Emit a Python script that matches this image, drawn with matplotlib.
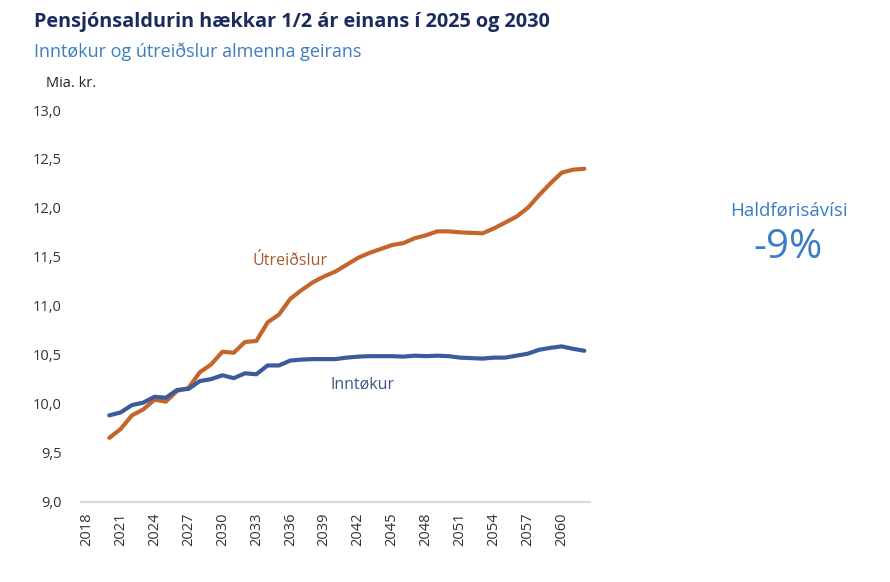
import matplotlib
matplotlib.use("Agg")
import matplotlib.pyplot as plt
from matplotlib.ticker import FuncFormatter, FixedLocator

plt.rcParams['font.family'] = ['Open Sans', 'DejaVu Sans']

years = list(range(2020, 2063))
utreidslur = [9.65, 9.74, 9.88, 9.94, 10.04, 10.02, 10.13, 10.16, 10.32, 10.40,
              10.53, 10.52, 10.63, 10.64, 10.83, 10.91, 11.07, 11.16, 11.24, 11.30,
              11.35, 11.42, 11.49, 11.54, 11.58, 11.62, 11.64, 11.69, 11.72, 11.76,
              11.76, 11.75, 11.745, 11.74, 11.79, 11.85, 11.91, 12.00, 12.13, 12.25,
              12.36, 12.39, 12.40]
inntokur = [9.88, 9.91, 9.985, 10.01, 10.07, 10.06, 10.14, 10.15, 10.23, 10.25,
            10.29, 10.26, 10.31, 10.30, 10.39, 10.39, 10.44, 10.45, 10.455, 10.455,
            10.455, 10.47, 10.48, 10.485, 10.485, 10.485, 10.48, 10.49, 10.485, 10.49,
            10.485, 10.47, 10.465, 10.46, 10.47, 10.47, 10.49, 10.51, 10.55, 10.57,
            10.585, 10.56, 10.54]
xticks = list(range(2018, 2061, 3))
yticks = [9.0, 9.5, 10.0, 10.5, 11.0, 11.5, 12.0, 12.5, 13.0]

title = "Pensjónsaldurin hækkar 1/2 ár einans í 2025 og 2030"
subtitle = "Inntøkur og útreiðslur almenna geirans"
unit = "Mia. kr."
label_ut = "Útreiðslur"
label_inn = "Inntøkur"
kpi_label = "Haldførisávísi"
kpi_value = "-9%"

orange = "#C4662C"
blue = "#3A5B9E"

fig = plt.figure(figsize=(8.9, 5.82), dpi=100)
ax = fig.add_axes([81/890, 1-501.5/582, (590-81)/890, (501.5-110)/582])

ax.plot(years, utreidslur, color=orange, lw=3.0, solid_capstyle='round', solid_joinstyle='round')
ax.plot(years, inntokur, color=blue, lw=3.0, solid_capstyle='round', solid_joinstyle='round')

ax.set_xlim(2017.5, 2062.5)
ax.set_ylim(9.0, 13.0)
ax.xaxis.set_major_locator(FixedLocator(xticks))
ax.yaxis.set_major_locator(FixedLocator(yticks))
ax.yaxis.set_major_formatter(FuncFormatter(lambda v, p: f"{v:.1f}".replace(".", ",")))
ax.tick_params(axis='x', labelrotation=90, length=0, pad=8, labelsize=10.5, colors='#333333')
ax.tick_params(axis='y', length=0, pad=14, labelsize=10.5, colors='#333333')
for s in ['top', 'right', 'left']:
    ax.spines[s].set_visible(False)
ax.spines['bottom'].set_color('#D9D9D9')
ax.spines['bottom'].set_linewidth(1.5)

ax.text(2036.0, 11.46, label_ut, color="#A65A30", fontsize=11.5, ha='center', va='center')
ax.text(2042.4, 10.19, label_inn, color="#3E5585", fontsize=11.5, ha='center', va='center')

fig.text(34/890, 1-22/582, title, fontsize=14.3, fontweight='bold', color="#1B2B5E", ha='left', va='center')
fig.text(34/890, 1-52/582, subtitle, fontsize=13, color="#3D7DC0", ha='left', va='center')
fig.text(46/890, 1-84/582, unit, fontsize=10.5, color="#222222", ha='left', va='center')

fig.text(789/890, 1-211/582, kpi_label, fontsize=13.5, color="#3B7DC4", ha='center', va='center')
fig.text(788/890, 1-248/582, kpi_value, fontsize=29, color="#3B7DC4", ha='center', va='center')

fig.savefig("out.png", dpi=100)
